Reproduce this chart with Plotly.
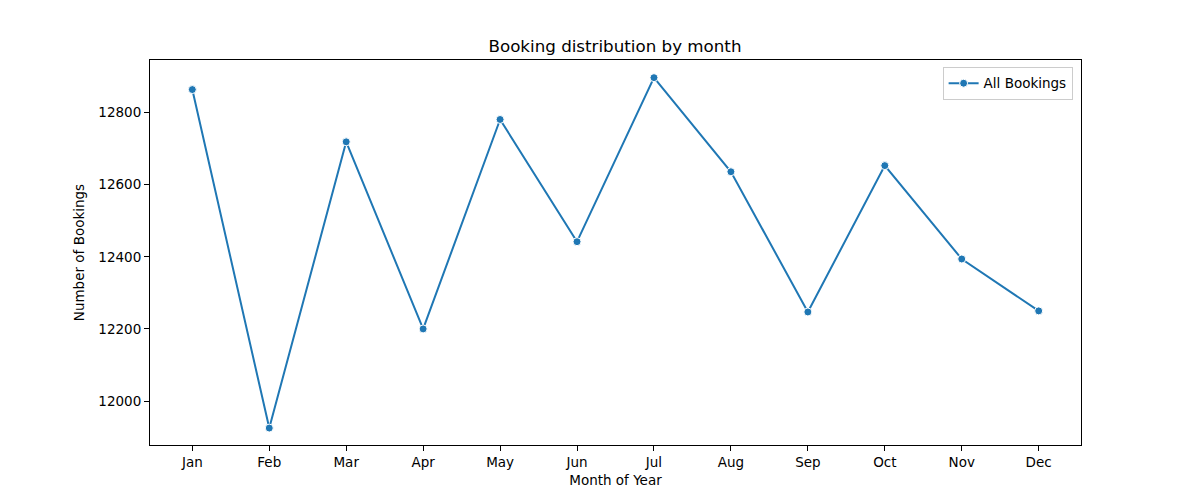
import plotly.graph_objects as go

months = ["Jan", "Feb", "Mar", "Apr", "May", "Jun",
          "Jul", "Aug", "Sep", "Oct", "Nov", "Dec"]
bookings = [12864, 11925, 12719, 12200, 12781, 12442,
            12897, 12636, 12247, 12653, 12394, 12250]
y_ticks = [12000, 12200, 12400, 12600, 12800]

fig = go.Figure()
fig.add_trace(go.Scatter(
    x=months, y=bookings, mode="lines+markers", name="All Bookings",
    line=dict(color="#1f77b4", width=2),
    marker=dict(size=8, color="#1f77b4", line=dict(color="white", width=1)),
))

axis_style = dict(
    showline=True, linecolor="black", linewidth=1, mirror=True,
    ticks="outside", ticklen=5, tickcolor="black", showgrid=False,
    zeroline=False, tickfont=dict(size=13.5, color="black"),
)

# page body has an 8px margin, so the margins are shifted by that
fig.update_layout(
    width=1200, height=500,
    margin=dict(l=142, r=127, t=52, b=63),
    paper_bgcolor="white", plot_bgcolor="white",
    font=dict(family="DejaVu Sans", color="black"),
    title=dict(text="Booking distribution by month", x=(615 - 8) / 1200,
               xanchor="center", y=1 - 38 / 500, yanchor="middle",
               font=dict(size=16.7)),
    showlegend=True,
    legend=dict(x=0.991, y=0.982, xanchor="right", yanchor="top",
                bordercolor="#cccccc", borderwidth=1, bgcolor="white",
                font=dict(size=13.5)),
)
fig.update_xaxes(axis_style, range=[-0.55, 11.55],
                 title=dict(text="Month of Year", font=dict(size=13.5), standoff=6))
fig.update_yaxes(axis_style, range=[11878, 12946], tickvals=y_ticks,
                 ticktext=[str(v) for v in y_ticks],
                 title=dict(text="Number of Bookings", font=dict(size=13.5), standoff=10))

fig.write_html("out.html")
